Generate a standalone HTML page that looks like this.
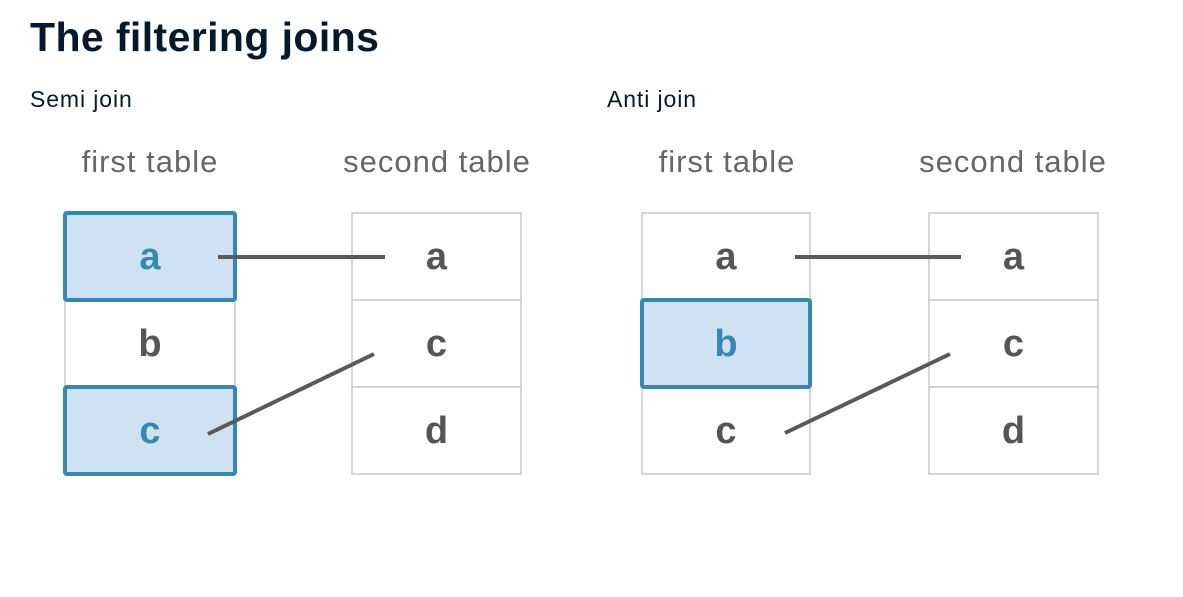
<!DOCTYPE html>
<html><head><meta charset="utf-8"><style>
body{margin:0;width:1183px;height:597px;background:#fff;overflow:hidden;font-family:"Liberation Sans",sans-serif}
h1{position:absolute;left:30px;top:14px;margin:0;font-size:41px;font-weight:bold;color:#05192d;letter-spacing:0.4px}
.sub{position:absolute;top:86px;font-size:23px;color:#05192d;letter-spacing:0.9px}
svg{position:absolute;left:0;top:0}
</style></head><body>
<h1>The filtering joins</h1>
<div class="sub" style="left:30px">Semi join</div>
<div class="sub" style="left:607px">Anti join</div>
<svg width="1183" height="597">
<g font-family="Liberation Sans, sans-serif" text-anchor="middle" letter-spacing="1">
<text x="150" y="172" font-size="31" fill="#666">first table</text>
<text x="437" y="172" font-size="31" fill="#666">second table</text>
<text x="727" y="172" font-size="31" fill="#666">first table</text>
<text x="1013" y="172" font-size="31" fill="#666">second table</text>
</g>
<g id="tables"></g>
</svg>
<script>
const tables=[
 {x:65,w:170,rows:['a','b','c'],hi:[0,2]},
 {x:352,w:169,rows:['a','c','d'],hi:[]},
 {x:642,w:168,rows:['a','b','c'],hi:[1]},
 {x:929,w:169,rows:['a','c','d'],hi:[]}
];
const g=document.getElementById('tables');
const ns='http://www.w3.org/2000/svg';
const top0=213,rh=87;
tables.forEach((t,ti)=>{
 t.rows.forEach((r,i)=>{
  const rect=document.createElementNS(ns,'rect');
  rect.setAttribute('x',t.x);rect.setAttribute('y',top0+i*rh);
  rect.setAttribute('width',t.w);rect.setAttribute('height',rh);
  rect.setAttribute('fill','#fff');rect.setAttribute('stroke','#c8c8c8');rect.setAttribute('stroke-width','1.5');
  
  
  g.appendChild(rect);
 });
 t.rows.forEach((r,i)=>{
  const hi=t.hi.includes(i);
  if(hi){
   const rect=document.createElementNS(ns,'rect');
   rect.setAttribute('x',t.x);rect.setAttribute('y',top0+i*rh);
   rect.setAttribute('width',t.w);rect.setAttribute('height',rh);
   rect.setAttribute('fill','#cfe2f3');rect.setAttribute('stroke','#3589b0');rect.setAttribute('stroke-width','4');rect.setAttribute('rx','2');
   
   
   g.appendChild(rect);
  }
  const tx=document.createElementNS(ns,'text');
  tx.setAttribute('x',t.x+t.w/2);tx.setAttribute('y',top0+i*rh+56);
  tx.setAttribute('text-anchor','middle');tx.setAttribute('font-size','38');tx.setAttribute('font-weight','bold');
  tx.setAttribute('font-family','Liberation Sans, sans-serif');
  tx.setAttribute('fill',hi?'#3589b0':'#555');
  tx.textContent=r;
  
  
  g.appendChild(tx);
 });
});
const lines=[[218,257,385,257],[208,434,374,354],[795,257,961,257],[785,433,950,354]];
lines.forEach(l=>{
 const ln=document.createElementNS(ns,'line');
 ln.setAttribute('x1',l[0]);ln.setAttribute('y1',l[1]);ln.setAttribute('x2',l[2]);ln.setAttribute('y2',l[3]);
 ln.setAttribute('stroke','#595959');ln.setAttribute('stroke-width','4');
 
 
 g.appendChild(ln);
});
</script>
</body></html>
